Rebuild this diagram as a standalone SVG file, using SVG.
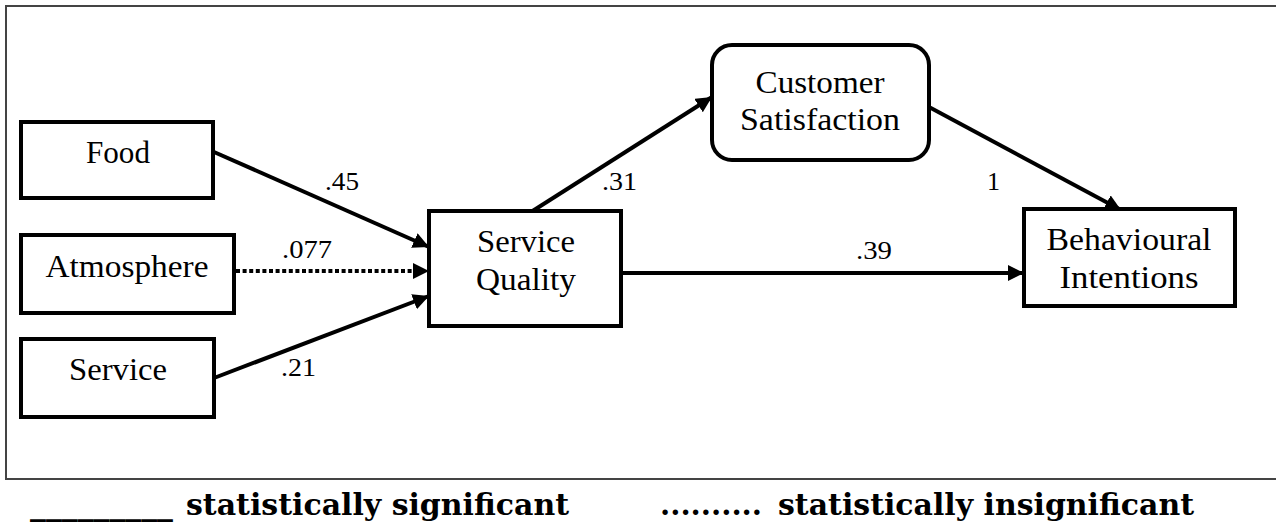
<svg xmlns="http://www.w3.org/2000/svg" width="1276" height="523" viewBox="0 0 1276 523">
<style>
.box{fill:#fff;stroke:#000;stroke-width:4}
.lbl{font-size:32px;fill:#000;text-anchor:middle}
.num{font-size:26px;fill:#000}
.leg{font-weight:bold;font-size:29px;fill:#000}
.conn{stroke:#000;stroke-width:4;fill:none;marker-end:url(#arr)}
.dot{stroke-dasharray:4 2.6}
</style>
<defs>
<marker id="arr" markerUnits="userSpaceOnUse" markerWidth="18" markerHeight="18" refX="16" refY="8" orient="auto">
<path d="M0,0 L16,8 L0,16 z" fill="#000"/>
</marker>
</defs>
<rect x="6" y="6" width="1290" height="473" fill="#fff" stroke="#444" stroke-width="2"/>
<g id="connectors" font-family="Liberation Serif, Times New Roman, serif">
<line class="conn" x1="214" y1="152" x2="429" y2="247"/>
<line class="conn dot" x1="236" y1="271" x2="429" y2="271"/>
<line class="conn" x1="214" y1="378" x2="429" y2="296"/>
<line class="conn" x1="531" y1="212" x2="712" y2="97"/>
<line class="conn" x1="929" y1="107" x2="1121" y2="210"/>
<line class="conn" x1="621" y1="273" x2="1024" y2="273"/>
<text class="num" x="325" y="190" textLength="34" lengthAdjust="spacingAndGlyphs">.45</text>
<text class="num" x="282" y="258" textLength="50" lengthAdjust="spacingAndGlyphs">.077</text>
<text class="num" x="281" y="376" textLength="35" lengthAdjust="spacingAndGlyphs">.21</text>
<text class="num" x="602" y="190" textLength="35" lengthAdjust="spacingAndGlyphs">.31</text>
<text class="num" x="987" y="190">1</text>
<text class="num" x="856" y="259" textLength="36" lengthAdjust="spacingAndGlyphs">.39</text>
</g>
<g font-family="Liberation Serif, Times New Roman, serif">
<g id="food">
<rect class="box" x="21" y="122" width="192" height="76"/>
<text class="lbl" x="118" y="163" textLength="64" lengthAdjust="spacingAndGlyphs">Food</text>
</g>
<g id="atmosphere">
<rect class="box" x="21" y="235" width="213" height="78"/>
<text class="lbl" x="127" y="277" textLength="163" lengthAdjust="spacingAndGlyphs">Atmosphere</text>
</g>
<g id="service">
<rect class="box" x="21" y="339" width="193" height="78"/>
<text class="lbl" x="118" y="380" textLength="98" lengthAdjust="spacingAndGlyphs">Service</text>
</g>
<g id="service-quality">
<rect class="box" x="429" y="211" width="192" height="115"/>
<text class="lbl" x="526" y="252" textLength="98" lengthAdjust="spacingAndGlyphs">Service</text>
<text class="lbl" x="526" y="290" textLength="100" lengthAdjust="spacingAndGlyphs">Quality</text>
</g>
<g id="customer-satisfaction">
<rect class="box" x="712" y="45" width="217" height="115" rx="20" ry="20"/>
<text class="lbl" x="820" y="93" textLength="129" lengthAdjust="spacingAndGlyphs">Customer</text>
<text class="lbl" x="820" y="130" textLength="160" lengthAdjust="spacingAndGlyphs">Satisfaction</text>
</g>
<g id="behavioural-intentions">
<rect class="box" x="1024" y="209" width="211" height="97"/>
<text class="lbl" x="1129" y="250" textLength="165" lengthAdjust="spacingAndGlyphs">Behavioural</text>
<text class="lbl" x="1129" y="288" textLength="139" lengthAdjust="spacingAndGlyphs">Intentions</text>
</g>
</g>
<g id="legend" font-family="DejaVu Serif, Liberation Serif, serif">
<text class="leg" x="30" y="515" textLength="143" lengthAdjust="spacingAndGlyphs">_________</text>
<text class="leg" x="186" y="515" textLength="383" lengthAdjust="spacingAndGlyphs">statistically significant</text>
<text class="leg" x="660" y="515" textLength="102" lengthAdjust="spacingAndGlyphs">..........</text>
<text class="leg" x="778" y="515" textLength="416" lengthAdjust="spacingAndGlyphs">statistically insignificant</text>
</g>
</svg>
